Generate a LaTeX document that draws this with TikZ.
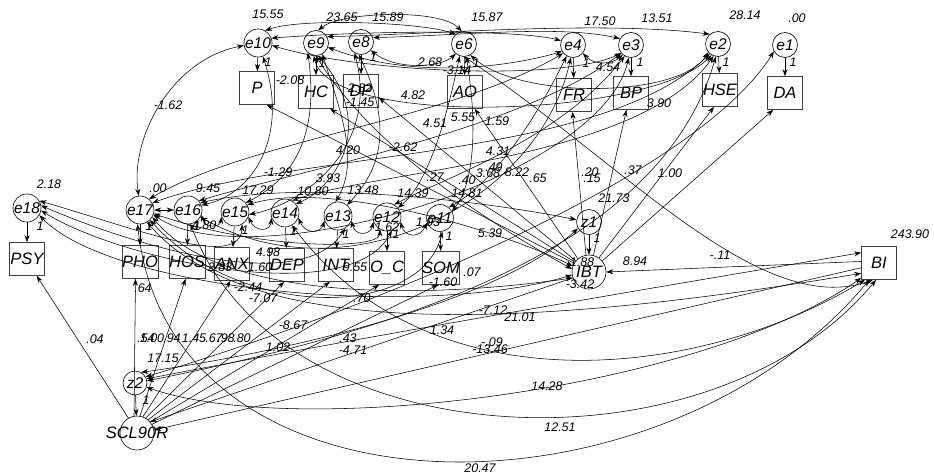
\documentclass[tikz,border=0pt]{standalone}
\usepackage{fontspec}
\setmainfont{Liberation Sans}
\usetikzlibrary{arrows.meta}
\newcommand\myboxfont{\fontsize{16.5}{17}\selectfont\itshape}
\newcommand\myerrfont{\fontsize{15.5}{16}\selectfont\itshape}
\newcommand\mylblfont{\fontsize{12.5}{13}\selectfont\itshape}
\begin{document}
\begin{tikzpicture}[x=1pt,y=-1pt,
  obs/.style={draw=black!75,line width=0.7pt,minimum width=35pt,minimum height=33pt,inner sep=0pt,font=\myboxfont},
  err/.style={draw,circle,line width=0.6pt,minimum size=25pt,inner sep=0pt,font=\myerrfont},
  lat/.style={draw,circle,line width=0.6pt,minimum size=34pt,inner sep=0pt,font=\myboxfont},
  lbl/.style={inner sep=0pt,font=\mylblfont},
  reg/.style={-{Stealth[length=7pt,width=5pt]},line width=0.55pt},
  cov/.style={{Stealth[length=7pt,width=5pt]}-{Stealth[length=7pt,width=5pt]},line width=0.55pt}]
\path[use as bounding box,fill=white] (0,0) rectangle (934,474);
% top boxes
\node[obs] (P) at (257,88) {P};
\node[obs] (HC) at (316,92) {HC};
\node[obs] (DP) at (361,91) {DP};
\node[obs] (AO) at (465,92) {AO};
\node[obs] (FR) at (574,95) {FR};
\node[obs] (BP) at (631,93) {BP};
\node[obs] (HSE) at (720,90) {HSE};
\node[obs] (DA) at (785,93) {DA};
% top errors
\node[err] (e10) at (258,43) {e10};
\node[err] (e9) at (316,43) {e9};
\node[err] (e8) at (361,42) {e8};
\node[err] (e6) at (464,44) {e6};
\node[err] (e4) at (573,45) {e4};
\node[err] (e3) at (631,45) {e3};
\node[err] (e2) at (718,44) {e2};
\node[err] (e1) at (785,45) {e1};
% middle errors
\node[err] (e18) at (27,208) {e18};
\node[err] (e17) at (140,210) {e17};
\node[err] (e16) at (188,210) {e16};
\node[err] (e15) at (235,212) {e15};
\node[err] (e14) at (285,213) {e14};
\node[err] (e13) at (338,216) {e13};
\node[err] (e12) at (387,217) {e12};
\node[err] (e11) at (440,218) {e11};
\node[err] (z1) at (589,222) {z1};
% middle boxes
\node[obs] (PSY) at (27,259) {PSY};
\node[obs] (PHO) at (140,262) {PHO};
\node[obs] (HOS) at (187,262) {HOS};
\node[obs] (ANX) at (232,264) {ANX};
\node[obs] (DEP) at (287,265) {DEP};
\node[obs] (INT) at (336,265) {INT};
\node[obs] (OC) at (387,268) {O\_C};
\node[obs] (SOM) at (441,268) {SOM};
\node[lat] (IBT) at (589,272) {IBT};
\node[obs] (BI) at (879,263) {BI};
\node[err,minimum size=24pt] (z2) at (135,383) {z2};
\node[lat,minimum size=34pt] (SCL) at (137,433) {};
\node[font=\myboxfont] at (137,433) {SCL90R};
% error -> indicator
\foreach \a/\b in {e10/P,e9/HC,e8/DP,e6/AO,e4/FR,e3/BP,e2/HSE,e1/DA,e18/PSY,e17/PHO,e16/HOS,e15/ANX,e14/DEP,e13/INT,e12/OC,e11/SOM,z1/IBT,z2/SCL}
  \draw[reg] (\a) -- (\b);
% SCL90R -> symptoms
\draw[reg] (SCL.120) -- (PSY.-60);
\draw[reg] (SCL.100) -- (PHO.-105);
\draw[reg] (SCL.80) -- (HOS.-95);
\draw[reg] (SCL.70) -- (ANX.-95);
\draw[reg] (SCL.60) -- (DEP.-100);
\draw[reg] (SCL.50) -- (INT.-110);
\draw[reg] (SCL.40) -- (OC.-115);
\draw[reg] (SCL.30) -- (SOM.-100);
% IBT -> top indicators
\draw[reg] (IBT.150) -- (P.-60);
\draw[reg] (IBT.145) -- (HC.-50);
\draw[reg] (IBT.140) -- (DP.-20);
\draw[reg] (IBT.130) -- (AO.-60);
\draw[reg] (IBT.100) -- (FR.-95);
\draw[reg] (IBT.75) -- (BP.-105);
\draw[reg] (IBT.55) -- (HSE.-110);
\draw[reg] (IBT.40) -- (DA.-125);
% BI / IBT -> others
\draw[reg] (BI.175) -- (IBT.0);
\draw[reg] (BI.-165) -- (SCL.10);
\draw[reg] (IBT.-160) -- (SCL.40);
% top covariances
\draw[cov] (e9.80) .. controls (340,12) and (440,8) .. (e6.100);
\draw[cov] (e10.60) .. controls (300,18) and (420,22) .. (e6.130);
\draw[cov] (e8.-40) .. controls (395,70) and (440,68) .. (e6.-130);
\draw[cov] (e9.-20) .. controls (420,82) and (520,64) .. (e4.-150);
\draw[cov] (e10.-10) .. controls (360,72) and (560,82) .. (e3.-140);
\draw[cov] (e4.-40) .. controls (595,66) and (612,64) .. (e3.-130);
\draw[cov] (e9.-100) .. controls (330,128) and (650,118) .. (e2.-120);
\draw[cov] (e8.20) .. controls (470,35) and (560,25) .. (e3.150);
\draw[cov] (e6.-60) .. controls (520,100) and (680,98) .. (e2.-140);
\draw[cov] (e10.20) .. controls (380,30) and (520,30) .. (e4.160);
\draw[cov] (e9.30) .. controls (420,35) and (600,20) .. (e2.130);
% top to middle
\draw[cov] (e10.190) .. controls (170,60) and (130,140) .. (e17.95);
\draw[cov] (e10.-70) .. controls (290,140) and (250,195) .. (e16.20);
\draw[cov] (e9.-130) .. controls (320,140) and (290,180) .. (e15.40);
\draw[cov] (e8.-120) .. controls (380,150) and (300,205) .. (e15.-10);
\draw[cov] (e9.-80) .. controls (380,130) and (330,190) .. (e14.40);
\draw[cov] (e8.-100) .. controls (400,140) and (370,180) .. (e13.50);
\draw[cov] (e9.-60) .. controls (340,110) and (360,160) .. (e13.100);
\draw[cov] (e6.-110) .. controls (440,150) and (420,190) .. (e12.40);
\draw[cov] (e6.-80) .. controls (480,140) and (470,190) .. (e11.30);
\draw[cov] (e4.-120) .. controls (520,150) and (480,190) .. (e11.50);
\draw[cov] (e3.-120) .. controls (560,140) and (440,180) .. (e12.60);
\draw[cov] (e2.-130) .. controls (600,160) and (300,150) .. (e17.30);
\draw[cov] (e4.-140) .. controls (450,120) and (250,140) .. (e17.50);
\draw[cov] (e3.-140) .. controls (520,130) and (300,170) .. (e16.40);
\draw[cov] (e2.-110) .. controls (640,160) and (380,170) .. (e14.60);
\draw[cov] (e3.-100) .. controls (600,180) and (250,280) .. (e17.-20);
\draw[cov] (e1.-150) .. controls (700,170) and (400,300) .. (z2.30);
\draw[cov] (e2.-100) .. controls (660,250) and (400,330) .. (z2.10);
\draw[cov] (e4.-100) .. controls (540,200) and (350,300) .. (e16.-30);
\draw[cov] (e6.-90) .. controls (620,160) and (760,320) .. (BI.-110);
\draw[cov] (e9.-90) .. controls (380,160) and (520,240) .. (IBT.170);
\draw[cov] (z2.20) .. controls (400,330) and (700,280) .. (BI.150);
% middle row covariances
\draw[cov] (e16.180) -- (e17.0);
\draw[cov] (e16.-20) .. controls (205,228) and (220,228) .. (e15.-160);
\draw[cov] (e15.-20) .. controls (255,232) and (270,232) .. (e14.-160);
\draw[cov] (e14.-20) .. controls (305,234) and (320,234) .. (e13.-160);
\draw[cov] (e13.-20) .. controls (355,236) and (370,236) .. (e12.-160);
\draw[cov] (e12.-20) .. controls (405,238) and (420,238) .. (e11.-160);
\draw[cov] (e17.-30) .. controls (220,300) and (420,300) .. (IBT.200);
\draw[cov] (e17.-45) .. controls (240,320) and (420,320) .. (e11.-80);
\draw[cov] (e17.-15) .. controls (260,250) and (380,250) .. (e12.-120);
\draw[cov] (e17.-60) .. controls (250,340) and (520,330) .. (BI.-150);
\draw[cov] (e16.30) .. controls (300,180) and (480,200) .. (z1.170);
\draw[cov] (e15.30) .. controls (330,180) and (500,230) .. (IBT.160);
% e18 covariances
\draw[cov] (e18.10) .. controls (120,240) and (300,300) .. (e13.-60);
\draw[cov] (e18.-10) .. controls (120,260) and (350,310) .. (e12.-70);
\draw[cov] (e18.-30) .. controls (110,290) and (420,320) .. (IBT.190);
\draw[cov] (e18.30) .. controls (140,230) and (240,270) .. (e15.-60);
% bottom covariances
\draw[cov] (e17.-100) .. controls (170,530) and (660,530) .. (BI.-120);
\draw[cov] (e16.-80) .. controls (280,460) and (710,480) .. (BI.-100);
\draw[cov] (z2.-20) .. controls (300,440) and (700,390) .. (BI.-140);
\draw[cov] (e14.-60) .. controls (430,410) and (700,380) .. (BI.-130);
\draw[cov] (z2.60) .. controls (300,350) and (500,300) .. (z1.-150);
% labels
\node[lbl] at (268,14) {15.55};
\node[lbl] at (342,17) {23.65};
\node[lbl] at (388,17) {15.89};
\node[lbl] at (487,17) {15.87};
\node[lbl] at (600,21) {17.50};
\node[lbl] at (657,18) {13.51};
\node[lbl] at (745,15) {28.14};
\node[lbl] at (797,18) {.00};
\node[lbl] at (49,184) {2.18};
\node[lbl] at (158,188) {.00};
\node[lbl] at (910,234) {243.90};
\node[lbl] at (290,80) {-2.08};
\node[lbl] at (360,88) {2.82};
\node[lbl] at (360,102) {-1.45};
\node[lbl] at (430,62) {2.68};
\node[lbl] at (457,70) {-3.14};
\node[lbl] at (413,95) {4.82};
\node[lbl] at (435,123) {4.51};
\node[lbl] at (463,117) {5.55};
\node[lbl] at (497,121) {1.59};
\node[lbl] at (608,67) {4.54};
\node[lbl] at (659,103) {3.90};
\node[lbl] at (498,151) {4.31};
\node[lbl] at (494,167) {.49};
\node[lbl] at (488,173) {3.68};
\node[lbl] at (517,172) {8.22};
\node[lbl] at (538,178) {.65};
\node[lbl] at (590,172) {.20};
\node[lbl] at (592,178) {.15};
\node[lbl] at (633,170) {.37};
\node[lbl] at (670,173) {1.00};
\node[lbl] at (614,198) {21.73};
\node[lbl] at (720,255) {-.11};
\node[lbl] at (635,261) {8.94};
\node[lbl] at (168,105) {-1.62};
\node[lbl] at (278,172) {-1.29};
\node[lbl] at (208,188) {9.45};
\node[lbl] at (258,190) {17.29};
\node[lbl] at (313,191) {10.80};
\node[lbl] at (328,178) {3.93};
\node[lbl] at (348,150) {4.20};
\node[lbl] at (403,147) {-2.62};
\node[lbl] at (363,190) {13.48};
\node[lbl] at (435,177) {.27};
\node[lbl] at (467,180) {.40};
\node[lbl] at (413,193) {14.39};
\node[lbl] at (467,193) {14.81};
\node[lbl] at (202,225) {-4.80};
\node[lbl] at (268,252) {4.98};
\node[lbl] at (387,227) {1.62};
\node[lbl] at (428,222) {1.93};
\node[lbl] at (490,233) {5.39};
\node[lbl] at (220,267) {2.83};
\node[lbl] at (260,267) {1.60};
\node[lbl] at (248,287) {-2.44};
\node[lbl] at (263,298) {-7.07};
\node[lbl] at (143,288) {.64};
\node[lbl] at (293,325) {-8.67};
\node[lbl] at (355,267) {9.55};
\node[lbl] at (362,298) {.70};
\node[lbl] at (472,272) {.07};
\node[lbl] at (443,282) {-1.60};
\node[lbl] at (582,262) {1.88};
\node[lbl] at (580,284) {-3.42};
\node[lbl] at (493,310) {-7.12};
\node[lbl] at (520,317) {21.01};
\node[lbl] at (442,330) {1.34};
\node[lbl] at (348,338) {.43};
\node[lbl] at (353,350) {-4.71};
\node[lbl] at (278,347) {1.02};
\node[lbl] at (95,339) {.04};
\node[lbl] at (146,338) {.54};
\node[lbl] at (152,338) {1.00};
\node[lbl] at (172,338) {.94};
\node[lbl] at (194,338) {1.45};
\node[lbl] at (214,338) {.67};
\node[lbl] at (226,338) {.98};
\node[lbl] at (242,338) {.80};
\node[lbl] at (163,358) {17.15};
\node[lbl] at (492,342) {-.09};
\node[lbl] at (490,349) {-13.46};
\node[lbl] at (547,386) {14.28};
\node[lbl] at (560,427) {12.51};
\node[lbl] at (480,468) {20.47};
% fixed loadings
\foreach \x/\y in {268/62,322/63,373/57,476/63,586/63,640/62,726/62,793/62,40/226,149/226,197/226,245/230,293/231,346/234,396/234,449/236,597/238,146/400}
  \node[lbl] at (\x,\y) {1};
\end{tikzpicture}
\end{document}
